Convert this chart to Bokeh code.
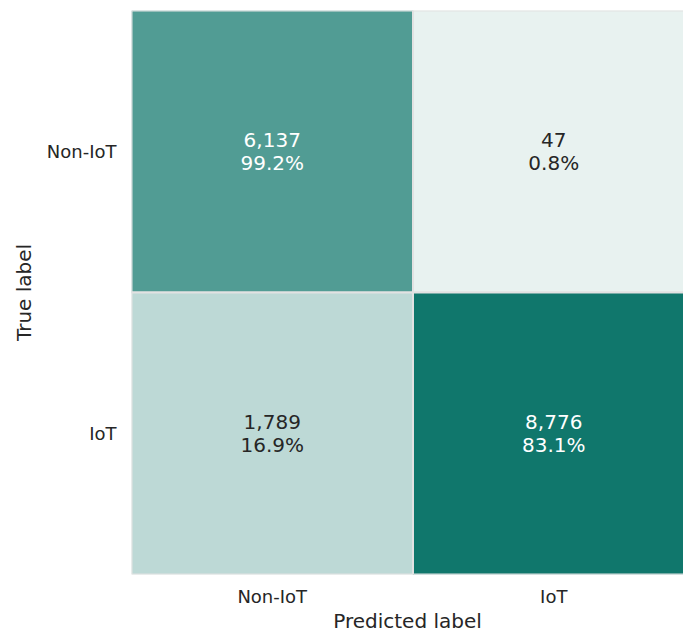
import numpy as np
from bokeh.plotting import figure
from bokeh.models import ColumnDataSource, Range1d, FixedTicker, LinearColorMapper
from bokeh.embed import file_html
from bokeh.resources import INLINE
from bokeh.core.properties import value

# Confusion matrix of the IoT / Non-IoT classifier
classes = ["Non-IoT", "IoT"]
true_labels = ["Non-IoT", "Non-IoT", "IoT", "IoT"]
pred_labels = ["Non-IoT", "IoT", "Non-IoT", "IoT"]
counts = [6137, 47, 1789, 8776]

# percentages are normalised over each true-label row
row_totals = {}
for t, c in zip(true_labels, counts):
    row_totals[t] = row_totals.get(t, 0) + c
percents = [100.0 * c / row_totals[t] for t, c in zip(true_labels, counts)]

n = len(classes)
xs = [classes.index(pr) + 0.5 for pr in pred_labels]
ys = [(n - 1 - classes.index(tr)) + 0.5 for tr in true_labels]

# light-to-dark teal colour scale
lo_rgb = np.array([232, 242, 240])
hi_rgb = np.array([16, 119, 108])
palette = []
for f in np.linspace(0, 1, 256):
    r, g, b = (lo_rgb + f * (hi_rgb - lo_rgb)).round().astype(int)
    palette.append(f"#{r:02x}{g:02x}{b:02x}")
vmin, vmax = min(counts), max(counts)
mapper = LinearColorMapper(palette=palette, low=vmin, high=vmax)

text_colors = ["#ffffff" if (c - vmin) / (vmax - vmin) > 0.5 else "#262626" for c in counts]

source = ColumnDataSource(dict(
    x=xs, y=ys, count=counts,
    count_txt=[f"{c:,}" for c in counts],
    pct_txt=[f"{p:.1f}%" for p in percents],
    tcolor=text_colors,
))

cell_px = 281.5
width, height = 683, 635
left, top, bottom = 131, 10, 61
frame_w = width - left

p = figure(width=width, height=height, output_backend="svg", toolbar_location=None,
           x_range=Range1d(0, frame_w / cell_px), y_range=Range1d(0, n),
           min_border_left=left, min_border_right=0, min_border_top=top,
           min_border_bottom=bottom)
p.outline_line_color = None
p.grid.visible = False
p.background_fill_color = "white"
p.border_fill_color = "white"

p.rect(x="x", y="y", width=1, height=1, source=source,
       fill_color={"field": "count", "transform": mapper},
       line_color="#e2e2e2", line_width=2)

font = value("DejaVu Sans")
p.text(x="x", y="y", text="count_txt", source=source, y_offset=-11.5,
       text_align="center", text_baseline="middle", text_font=font,
       text_font_size="20px", text_color="tcolor")
p.text(x="x", y="y", text="pct_txt", source=source, y_offset=11.5,
       text_align="center", text_baseline="middle", text_font=font,
       text_font_size="20px", text_color="tcolor")

p.xaxis.ticker = FixedTicker(ticks=[i + 0.5 for i in range(n)])
p.xaxis.major_label_overrides = {i + 0.5: c for i, c in enumerate(classes)}
p.yaxis.ticker = FixedTicker(ticks=[i + 0.5 for i in range(n)])
p.yaxis.major_label_overrides = {(n - 1 - i) + 0.5: c for i, c in enumerate(classes)}
p.xaxis.axis_label = "Predicted label"
p.yaxis.axis_label = "True label"

for ax in (p.xaxis[0], p.yaxis[0]):
    ax.axis_line_color = None
    ax.major_tick_line_color = None
    ax.minor_tick_line_color = None
    ax.major_tick_in = 0
    ax.major_tick_out = 0
    ax.major_label_text_font = "DejaVu Sans"
    ax.major_label_text_font_size = "18px"
    ax.major_label_text_color = "#262626"
    ax.axis_label_text_font = "DejaVu Sans"
    ax.axis_label_text_font_size = "20px"
    ax.axis_label_text_font_style = "normal"
    ax.axis_label_text_color = "#262626"

p.xaxis.major_label_standoff = 11
p.xaxis.axis_label_standoff = -1
p.yaxis.major_label_standoff = 15
p.yaxis.axis_label_standoff = 8

open("out.html", "w").write(file_html(p, INLINE))
